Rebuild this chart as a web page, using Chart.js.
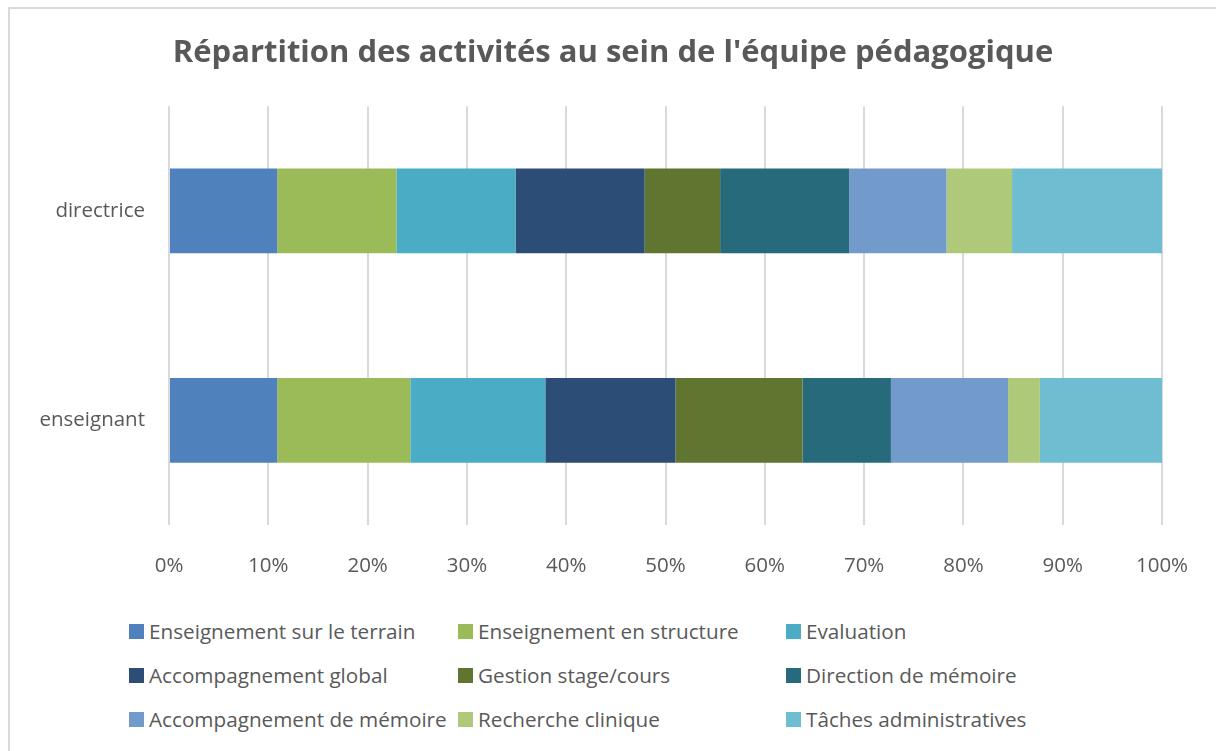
<!DOCTYPE html>
<html lang="fr">
<head>
<meta charset="utf-8">
<title>Répartition des activités</title>
<script src="https://cdn.jsdelivr.net/npm/chart.js@4/dist/chart.umd.min.js"></script>
<style>
  html, body { margin: 0; padding: 0; background: #fff; }
  body { width: 1216px; height: 751px; overflow: hidden; position: relative; font-family: "Open Sans", sans-serif; }
  #frame {
    position: absolute; left: 8px; top: 7px; width: 1220px; height: 760px;
    border-left: 2px solid #d9d9d9; border-top: 2px solid #d9d9d9;
  }
  #chartBox { position: absolute; left: 0; top: 0; width: 1226px; height: 600px; }
  #legend { position: absolute; left: 129px; top: 609px; }
  .row { display: flex; height: 44px; align-items: center; }
  .item { display: flex; align-items: center; color: #595959; font-size: 20.7px; white-space: nowrap; }
  .item:nth-child(1) { width: 329px; }
  .item:nth-child(2) { width: 328px; }
  .swatch { width: 15px; height: 15px; margin-right: 5px; flex: none; }
</style>
</head>
<body>
<div id="frame"></div>
<div id="chartBox"><canvas id="myChart" width="1226" height="600"></canvas></div>
<div id="legend"></div>

<script>
// categories (top to bottom)
const categories = ["directrice", "enseignant"];

// share of time per activity, in %, [directrice, enseignant]
const enseignementTerrain = [10.9, 10.9];
const enseignementStructure = [12.0, 13.4];
const evaluation = [12.0, 13.6];
const accompagnementGlobal = [13.0, 13.1];
const gestionStage = [7.6, 12.8];
const directionMemoire = [13.0, 8.9];
const accompagnementMemoire = [9.8, 11.8];
const rechercheClinique = [6.6, 3.2];
const tachesAdministratives = [15.1, 12.3];

const seriesNames = [
  "Enseignement sur le terrain",
  "Enseignement en structure",
  "Evaluation",
  "Accompagnement global",
  "Gestion stage/cours",
  "Direction de mémoire",
  "Accompagnement de mémoire",
  "Recherche clinique",
  "Tâches administratives",
];
const seriesValues = [
  enseignementTerrain, enseignementStructure, evaluation,
  accompagnementGlobal, gestionStage, directionMemoire,
  accompagnementMemoire, rechercheClinique, tachesAdministratives,
];
const seriesColors = [
  "#4f81bd", "#9bbb59", "#4bacc6",
  "#2c4d75", "#5f7530", "#276a7c",
  "#729aca", "#afc97a", "#6fbdd1",
];

const xTicks = [0, 10, 20, 30, 40, 50, 60, 70, 80, 90, 100];

const textColor = "#595959";
const gridColor = "#d9d9d9";

const datasets = seriesNames.map((name, i) => ({
  label: name,
  data: seriesValues[i],
  backgroundColor: seriesColors[i],
  borderWidth: 0,
  barPercentage: 0.405,
  categoryPercentage: 1,
}));

const ctx = document.getElementById("myChart").getContext("2d");
const chart = new Chart(ctx, {
  type: "bar",
  data: { labels: categories, datasets: datasets },
  options: {
    indexAxis: "y",
    responsive: false,
    animation: false,
    layout: { padding: 0 },
    plugins: {
      legend: { display: false },
      tooltip: { enabled: false },
      title: {
        display: true,
        text: "Répartition des activités au sein de l'équipe pédagogique",
        color: textColor,
        font: { family: "'Open Sans', sans-serif", size: 31, weight: "bold" },
        padding: { top: 35, bottom: 34 },
      },
    },
    scales: {
      x: {
        stacked: true,
        min: 0,
        max: 100,
        afterBuildTicks: (s) => { s.ticks = xTicks.map((v) => ({ value: v })); },
        afterFit: (s) => { s.height = 75; },
        border: { display: false },
        grid: { color: gridColor, lineWidth: 2, drawTicks: false },
        ticks: {
          color: textColor,
          padding: 29,
          font: { family: "'Open Sans', sans-serif", size: 20.5 },
          callback: (v) => v + "%",
        },
      },
      y: {
        stacked: true,
        afterFit: (s) => { s.width = 169; },
        border: { display: false },
        grid: { display: false, drawTicks: false },
        ticks: {
          color: textColor,
          padding: 24,
          font: { family: "'Open Sans', sans-serif", size: 20.5 },
        },
      },
      // empty right-hand axis: only keeps space so the title centres like the original
      yRight: {
        type: "category",
        position: "right",
        afterFit: (s) => { s.width = 64; },
        border: { display: false },
        grid: { display: false, drawTicks: false },
        ticks: { display: false },
      },
    },
  },
});

// legend laid out in three columns like the original
const legend = document.getElementById("legend");
for (let r = 0; r < 3; r++) {
  const row = document.createElement("div");
  row.className = "row";
  for (let c = 0; c < 3; c++) {
    const i = r * 3 + c;
    const item = document.createElement("div");
    item.className = "item";
    const sw = document.createElement("span");
    sw.className = "swatch";
    sw.style.background = chart.data.datasets[i].backgroundColor;
    item.appendChild(sw);
    item.appendChild(document.createTextNode(chart.data.datasets[i].label));
    row.appendChild(item);
  }
  legend.appendChild(row);
}
</script>
</body>
</html>
